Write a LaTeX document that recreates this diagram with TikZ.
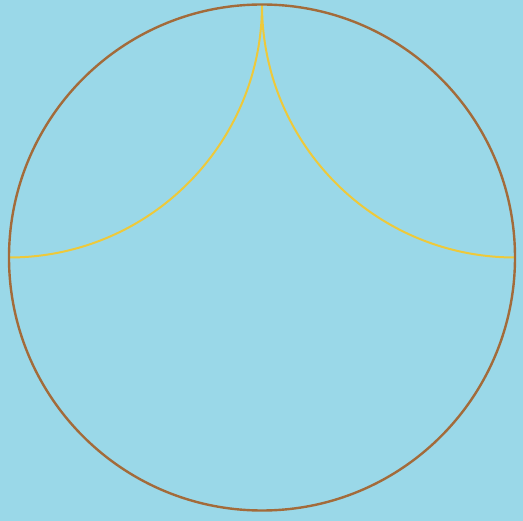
\documentclass[tikz,border=0pt]{standalone}
\usepackage{xcolor}
\usetikzlibrary{positioning,calc}
\definecolor{skyblue}{HTML}{9AD8E8}
\definecolor{rimbrown}{HTML}{A36B3A}
\definecolor{arcyellow}{HTML}{EEC93A}

\begin{document}
\begin{tikzpicture}[
  x=1pt, y=-1pt,
  rim/.style={draw=rimbrown, line width=2.4pt},
  cusp/.style={draw=arcyellow, line width=2pt}
]
\fill[skyblue] (0,0) rectangle (523,521);
\useasboundingbox (0,0) rectangle (523,521);
\coordinate (ctr) at (262,257.5);
\coordinate (top) at (262,4.5);
\coordinate (lft) at (9,257.5);
\coordinate (rgt) at (515,257.5);
% yellow arcs
\draw[cusp] (top) arc[start angle=0, end angle=90, radius=253];
\draw[cusp] (top) arc[start angle=180, end angle=90, radius=253];
% outer circle
\draw[rim] (ctr) circle[radius=253];
\end{tikzpicture}
\end{document}
